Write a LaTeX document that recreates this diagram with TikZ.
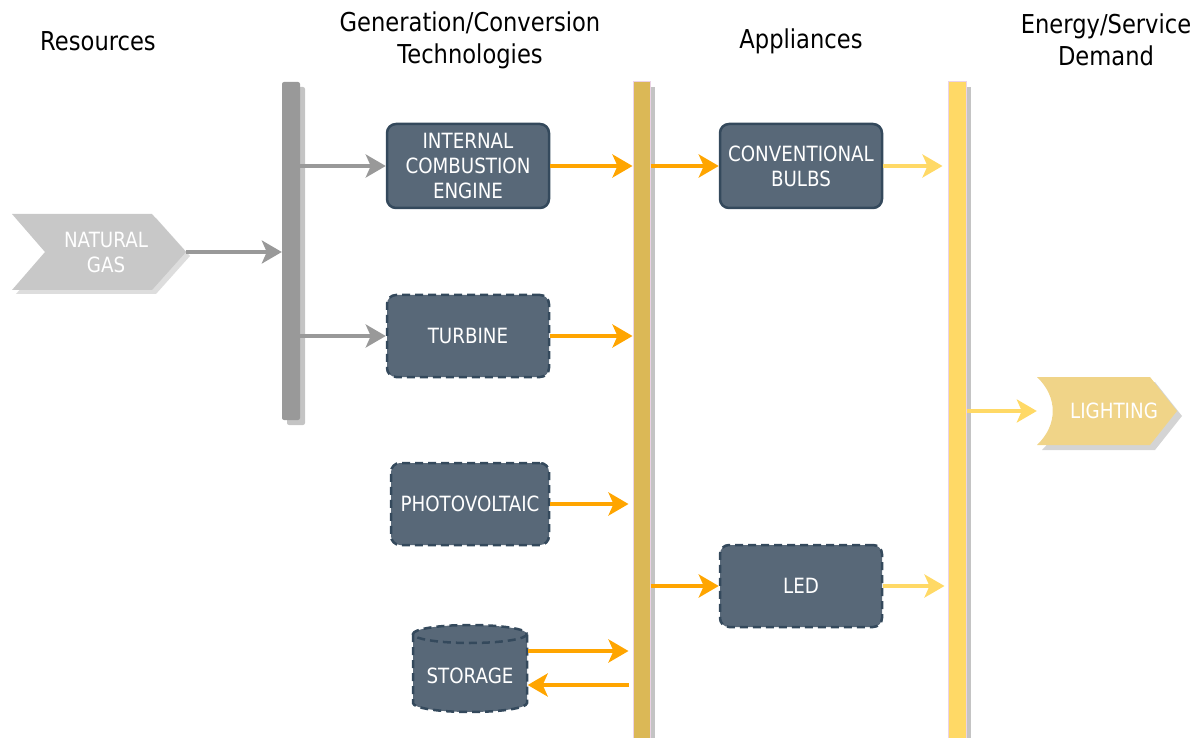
\documentclass[tikz,border=0pt]{standalone}
\usepackage{fontspec}
\setmainfont{DejaVu Sans}[FakeStretch=0.87]
\usetikzlibrary{arrows.meta}
\definecolor{boxfill}{HTML}{586878}
\definecolor{boxline}{HTML}{34495C}
\definecolor{orng}{HTML}{FFA500}
\definecolor{ylw}{HTML}{FFD966}
\definecolor{gold}{HTML}{DBB856}
\definecolor{barg}{HTML}{999999}
\definecolor{shad}{HTML}{C4C4C4}
\definecolor{gasfill}{HTML}{C8C8C8}
\definecolor{gasshad}{HTML}{DDDDDD}
\definecolor{litfill}{HTML}{F0D488}
\definecolor{litshad}{HTML}{D4D4D4}
\definecolor{pinkline}{HTML}{EBD3E6}
\begin{document}
\begin{tikzpicture}[x=1pt,y=-1pt,
  tech/.style={draw=boxline, line width=2.5pt, fill=boxfill, rounded corners=9pt, text=white,
    font=\fontsize{21}{25}\selectfont, align=center, inner sep=0pt},
  dbox/.style={tech, dash pattern=on 8pt off 5pt},
  ttl/.style={font=\fontsize{26}{32}\selectfont, align=center},
  oarr/.style={draw=orng, line width=4pt, -{Stealth[length=20pt,width=23pt,inset=5pt]}},
  yarr/.style={draw=ylw, line width=3.5pt, -{Stealth[length=20pt,width=23pt,inset=5pt]}},
  garr/.style={draw=barg, line width=3.5pt, -{Stealth[length=20pt,width=23pt,inset=5pt]}},
  lbl/.style={text=white, font=\fontsize{21}{25}\selectfont, align=center, inner sep=0pt}]
\path[use as bounding box] (0,0) rectangle (1203,738);

% titles
\node[ttl] (t1) at (98,41) {Resources};
\node[ttl] (t2) at (470,40) {Generation/Conversion\\Technologies};
\node[ttl] (t3) at (801,41) {Appliances};
\node[ttl] (t4) at (1106,40) {Energy/Service\\Demand};

% bars
\fill[shad, rounded corners=2pt] (287,87) rectangle (305,425);
\node[fill=barg, rounded corners=2pt, minimum width=18pt, minimum height=338pt, inner sep=0pt] (gbar) at (291,251) {};
\fill[shad] (639,87) rectangle (655,738);
\node[fill=gold, draw=pinkline, line width=1pt, minimum width=17pt, minimum height=660pt, inner sep=0pt] (bar1) at (641.5,412) {};
\fill[shad] (954,87) rectangle (971,738);
\node[fill=ylw, draw=pinkline, line width=1pt, minimum width=18pt, minimum height=660pt, inner sep=0pt] (bar2) at (957,412) {};

% natural gas chevron
\fill[gasshad] (16,218) -- (156,218) -- (190,256) -- (156,294) -- (16,294) -- (49,256) -- cycle;
\fill[gasfill] (12,214) -- (152,214) -- (186,252) -- (152,290) -- (12,290) -- (45,252) -- cycle;
\node[lbl, minimum width=160pt, minimum height=76pt] (gas) at (106,252) {NATURAL\\GAS};

% lighting shape
\fill[litshad] (1042,382) -- (1155,382) -- (1182,416) -- (1155,450) -- (1042,450) .. controls (1063,430) and (1063,402) .. cycle;
\fill[litfill] (1037,377) -- (1150,377) -- (1177,411) -- (1150,445) -- (1037,445) .. controls (1058,425) and (1058,397) .. cycle;
\node[lbl, minimum width=154pt, minimum height=68pt] (lit) at (1114,411) {LIGHTING};

% technology boxes
\node[tech, minimum width=162pt, minimum height=84pt] (ice) at (468,166) {INTERNAL\\COMBUSTION\\ENGINE};
\node[dbox, minimum width=162pt, minimum height=82pt] (turb) at (468,336) {TURBINE};
\node[dbox, minimum width=158pt, minimum height=82pt] (pv) at (470,504) {PHOTOVOLTAIC};

% storage cylinder
\fill[boxfill] (413,634) -- (413,703) arc[start angle=180, end angle=0, x radius=57, y radius=9]
  -- (527,634) arc[start angle=360, end angle=180, x radius=57, y radius=9] -- cycle;
\draw[boxline, line width=2.5pt, dash pattern=on 8pt off 5pt] (413,634) -- (413,703) arc[start angle=180, end angle=0, x radius=57, y radius=9]
  -- (527,634);
\draw[boxline, line width=2.5pt, dash pattern=on 8pt off 5pt] (470,634) ellipse[x radius=57, y radius=9];
\node[lbl, minimum width=115pt, minimum height=87pt] (sto) at (470,676) {STORAGE};

% appliances
\node[tech, minimum width=162pt, minimum height=84pt] (bulb) at (801,166) {CONVENTIONAL\\BULBS};
\node[dbox, minimum width=162pt, minimum height=82pt] (led) at (801,586) {LED};

% connectors
\draw[garr] (gas.east) -- (gas.east -| gbar.west);
\draw[garr] (ice.west -| gbar.east) -- (ice.west);
\draw[garr] (turb.west -| gbar.east) -- (turb.west);
\draw[oarr] (ice.east) -- (ice.east -| bar1.west);
\draw[oarr] (turb.east) -- (turb.east -| bar1.west);
\draw[oarr, shorten >=4pt] (pv.east) -- (pv.east -| bar1.west);
\draw[oarr, shorten >=4pt] ([yshift=25pt]sto.east) -- ([yshift=25pt]sto.east -| bar1.west);
\draw[oarr, shorten <=4pt] ([yshift=-9pt]sto.east -| bar1.west) -- ([yshift=-9pt]sto.east);
\draw[oarr] (bulb.west -| bar1.east) -- (bulb.west);
\draw[oarr] (led.west -| bar1.east) -- (led.west);
\draw[yarr, shorten >=5pt] (bulb.east) -- (bulb.east -| bar2.west);
\draw[yarr, shorten >=3pt] (led.east) -- (led.east -| bar2.west);
\draw[yarr] (lit.west -| bar2.east) -- (lit.west);
\end{tikzpicture}
\end{document}
